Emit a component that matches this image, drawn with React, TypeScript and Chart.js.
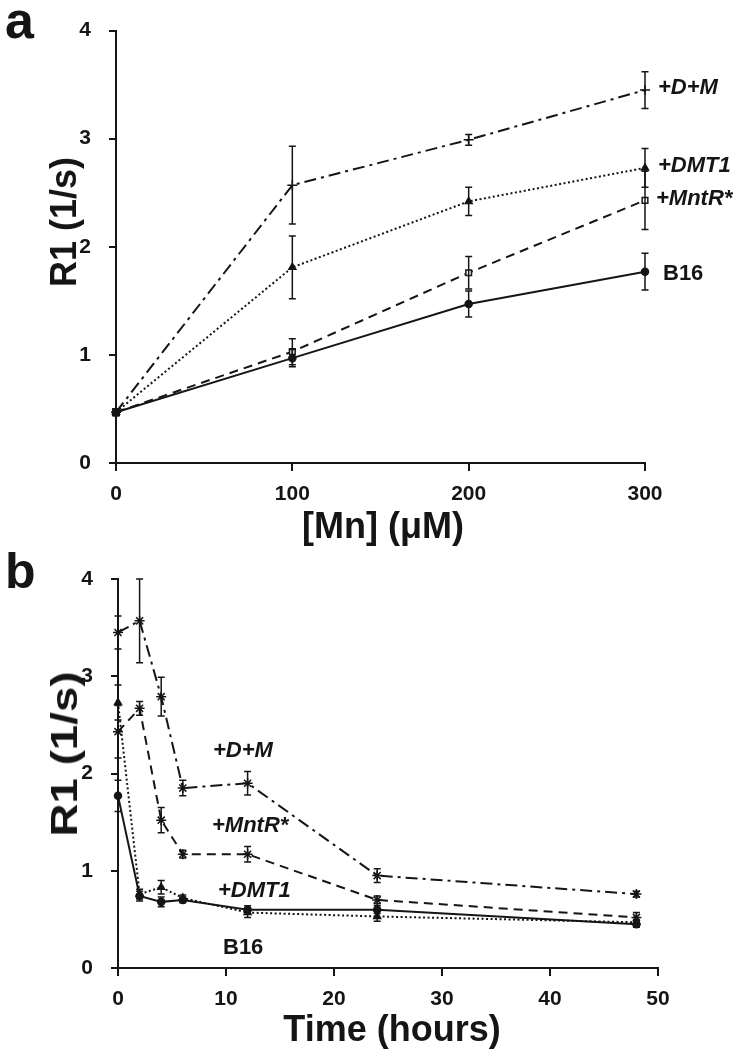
import React, { useEffect, useRef } from 'react';
import { Chart, registerables } from 'chart.js';

Chart.register(...registerables);

// ---------- Panel a data ----------
const mnConc = [0, 100, 200, 300];
const aDM = [0.47, 2.57, 2.99, 3.45];
const aDMErr = [0.03, 0.36, 0.05, 0.17];
const aDMT1 = [0.47, 1.81, 2.42, 2.73];
const aDMT1Err = [0.03, 0.29, 0.13, 0.18];
const aMntR = [0.47, 1.03, 1.76, 2.43];
const aMntRErr = [0.03, 0.12, 0.15, 0.27];
const aB16 = [0.47, 0.97, 1.47, 1.77];
const aB16Err = [0.03, 0.08, 0.12, 0.17];

// ---------- Panel b data ----------
const hours = [0, 2, 4, 6, 12, 24, 48];
const bDM = [3.45, 3.57, 2.79, 1.85, 1.9, 0.95, 0.76];
const bDMErr = [0.17, 0.43, 0.2, 0.08, 0.12, 0.07, 0.03];
const bMntR = [2.43, 2.67, 1.52, 1.17, 1.17, 0.7, 0.52];
const bMntRErr = [0.27, 0.07, 0.13, 0.04, 0.08, 0.04, 0.05];
const bDMT1 = [2.73, 0.76, 0.83, 0.72, 0.57, 0.53, 0.47];
const bDMT1Err = [0.18, 0.05, 0.07, 0.03, 0.05, 0.05, 0.03];
const bB16 = [1.77, 0.74, 0.68, 0.7, 0.6, 0.6, 0.45];
const bB16Err = [0.16, 0.05, 0.05, 0.03, 0.04, 0.04, 0.03];

const aYTicks = [0, 1, 2, 3, 4];
const bYTicks = [0, 1, 2, 3, 4];

const INK = '#151515';
const FONT = "'Liberation Sans', Arial, sans-serif";

const errorBarPlugin = {
  id: 'errorBars',
  afterDatasetsDraw(chart: any) {
    const { ctx } = chart;
    const xs = chart.scales.x;
    const ys = chart.scales.y;
    chart.data.datasets.forEach((ds: any) => {
      const errs: number[] = ds.errs;
      if (!errs) return;
      ds.data.forEach((p: any, i: number) => {
        const px = xs.getPixelForValue(p.x);
        const top = ys.getPixelForValue(p.y + errs[i]);
        const bot = ys.getPixelForValue(p.y - errs[i]);
        ctx.save();
        ctx.strokeStyle = INK;
        ctx.lineWidth = 1.5;
        ctx.setLineDash([]);
        ctx.beginPath();
        ctx.moveTo(px, top);
        ctx.lineTo(px, bot);
        ctx.moveTo(px - 3.5, top);
        ctx.lineTo(px + 3.5, top);
        ctx.moveTo(px - 3.5, bot);
        ctx.lineTo(px + 3.5, bot);
        ctx.stroke();
        ctx.restore();
      });
    });
  },
};

function mkDataset(xv: number[], yv: number[], errs: number[], dash: number[], style: string, radius: number, fill: boolean, lw: number) {
  return {
    data: xv.map((x, i) => ({ x, y: yv[i] })),
    errs,
    borderColor: INK,
    borderWidth: lw,
    borderDash: dash,
    pointStyle: style,
    pointRadius: radius,
    pointBorderColor: INK,
    pointBackgroundColor: fill ? INK : '#ffffff',
    pointBorderWidth: 1.5,
    tension: 0,
    fill: false,
    clip: false as any,
  };
}

function axisCommon(min: number, max: number, step: number, tickLen: number, pad: number, afterFit: (s: any) => void) {
  return {
    type: 'linear' as const,
    min,
    max,
    ticks: {
      stepSize: step,
      color: INK,
      padding: pad,
      maxRotation: 0,
      font: { family: FONT, weight: 'bold' as const, size: 21 },
    },
    grid: {
      drawOnChartArea: false,
      drawTicks: true,
      tickLength: tickLen,
      color: INK,
      lineWidth: 2,
    },
    border: { display: true, color: INK, width: 2 },
    afterFit,
  };
}

function useChart(build: () => any) {
  const ref = useRef<HTMLCanvasElement | null>(null);
  useEffect(() => {
    if (!ref.current) return;
    const chart = new Chart(ref.current, build());
    return () => chart.destroy();
  }, []);
  return ref;
}

export default function App() {
  const refA = useChart(() => ({
    type: 'line',
    data: {
      datasets: [
        mkDataset(mnConc, aDM, aDMErr, [12, 5, 3, 5], 'cross', 5, false, 2),
        mkDataset(mnConc, aDMT1, aDMT1Err, [2, 2.5], 'triangle', 4, true, 2),
        mkDataset(mnConc, aMntR, aMntRErr, [9, 6], 'rect', 4, false, 2),
        mkDataset(mnConc, aB16, aB16Err, [], 'circle', 3.5, true, 2),
      ],
    },
    options: {
      responsive: false,
      animation: false,
      layout: { padding: { left: 0, top: 26, right: 93, bottom: 0 } },
      plugins: { legend: { display: false }, tooltip: { enabled: false } },
      scales: {
        x: axisCommon(0, 300, 100, 8, 11, (s: any) => { s.height = 77; }),
        y: {
          ...axisCommon(aYTicks[0], aYTicks[aYTicks.length - 1], 1, 7, 18, (s: any) => { s.width = 116; }),
        },
      },
    },
    plugins: [errorBarPlugin],
  }));

  const refB = useChart(() => ({
    type: 'line',
    data: {
      datasets: [
        mkDataset(hours, bDM, bDMErr, [12, 5, 3, 5], 'star', 5, false, 2),
        mkDataset(hours, bMntR, bMntRErr, [9, 6], 'star', 5, false, 2),
        mkDataset(hours, bDMT1, bDMT1Err, [2, 2.5], 'triangle', 4, true, 2),
        mkDataset(hours, bB16, bB16Err, [], 'circle', 3.5, true, 2),
      ],
    },
    options: {
      responsive: false,
      animation: false,
      layout: { padding: { left: 0, top: 39, right: 80, bottom: 0 } },
      plugins: { legend: { display: false }, tooltip: { enabled: false } },
      scales: {
        x: axisCommon(0, 50, 10, 8, 11, (s: any) => { s.height = 82; }),
        y: {
          ...axisCommon(bYTicks[0], bYTicks[bYTicks.length - 1], 1, 7, 18, (s: any) => { s.width = 118; }),
        },
      },
    },
    plugins: [errorBarPlugin],
  }));

  const txt = (s: string, left: number, cy: number, size: number, italic = true): React.ReactElement => (
    <div
      key={s + left + cy}
      style={{
        position: 'absolute',
        left,
        top: cy - size / 2,
        fontFamily: FONT,
        fontWeight: 'bold',
        fontStyle: italic ? 'italic' : 'normal',
        fontSize: size,
        lineHeight: 1,
        whiteSpace: 'nowrap',
        color: INK,
      }}
    >
      {s}
    </div>
  );

  const centered = (s: string, cx: number, cy: number, size: number, rotate: boolean, stretch = 1): React.ReactElement => (
    <div
      key={s + cx + cy}
      style={{
        position: 'absolute',
        left: cx,
        top: cy,
        transform: `translate(-50%, -50%) ${rotate ? 'rotate(-90deg)' : ''} scaleX(${stretch})`,
        fontFamily: FONT,
        fontWeight: 'bold',
        fontSize: size,
        lineHeight: 1,
        whiteSpace: 'nowrap',
        color: INK,
      }}
    >
      {s}
    </div>
  );

  return (
    <div style={{ position: 'absolute', left: 0, top: 0, width: 738, height: 1050, background: '#fff', overflow: 'hidden' }}>
      <canvas ref={refA} width={738} height={540} style={{ position: 'absolute', left: 0, top: 0, width: 738, height: 540 }} />
      <canvas ref={refB} width={738} height={510} style={{ position: 'absolute', left: 0, top: 540, width: 738, height: 510 }} />

      <div style={{ position: 'absolute', left: 5, top: -6, fontFamily: FONT, fontWeight: 'bold', fontSize: 52, lineHeight: 1, color: INK }}>a</div>
      <div style={{ position: 'absolute', left: 5, top: 546, fontFamily: FONT, fontWeight: 'bold', fontSize: 50, lineHeight: 1, color: INK }}>b</div>

      {centered('R1 (1/s)', 64, 222, 36, true)}
      {centered('[Mn] (μM)', 383, 526, 36, false)}
      {centered('R1 (1/s)', 65, 754, 36, true, 1.27)}
      {centered('Time (hours)', 392, 1029, 36, false)}

      {txt('+D+M', 658, 87, 22)}
      {txt('+DMT1', 658, 165, 22)}
      {txt('+MntR*', 656, 198, 22)}
      {txt('B16', 663, 273, 22, false)}

      {txt('+D+M', 213, 750, 22)}
      {txt('+MntR*', 212, 825, 22)}
      {txt('+DMT1', 218, 890, 22)}
      {txt('B16', 223, 947, 22, false)}
    </div>
  );
}
